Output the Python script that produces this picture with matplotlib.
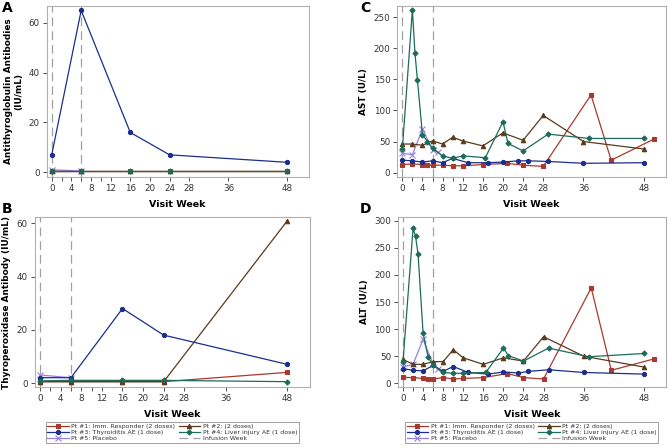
import numpy as np
import matplotlib
matplotlib.use("Agg")
import matplotlib.pyplot as plt
from matplotlib.lines import Line2D

plt.rcParams['font.family'] = ['DejaVu Sans']

# Series colours / markers
pt_names = ["Pt #1: Imm. Responder (2 doses)", "Pt #2: (2 doses)",
            "Pt #3: Thyroiditis AE (1 dose)", "Pt #4: Liver injury AE (1 dose)",
            "Pt #5: Placebo"]
pt_colors = ["#a8392f", "#5a3a1c", "#1c2f8c", "#1d6b58", "#9a7fe6"]
pt_markers = ["s", "^", "o", "D", "x"]
pt_msize = [3.0, 3.2, 3.0, 2.6, 4.0]

# Panel A - Antithyroglobulin antibodies (IU/mL)
a_weeks = {
    1: [0, 6, 16, 24, 48],
    2: [0, 6, 16, 24, 48],
    3: [0, 6, 16, 24, 48],
    4: [0, 6, 16, 24, 48],
    5: [0, 6],
}
a_vals = {
    1: [0.5, 0.5, 0.5, 0.5, 0.5],
    2: [0.5, 0.5, 0.5, 0.5, 0.5],
    3: [7, 65, 16, 7, 4],
    4: [0.5, 0.5, 0.5, 0.5, 0.5],
    5: [1, 0.5],
}

# Panel B - Thyroperoxidase antibody (IU/mL)
b_weeks = {
    1: [0, 6, 16, 24, 48],
    2: [0, 6, 16, 24, 48],
    3: [0, 6, 16, 24, 48],
    4: [0, 6, 16, 24, 48],
    5: [0, 6],
}
b_vals = {
    1: [0.5, 0.5, 0.5, 0.5, 4],
    2: [0.5, 0.5, 0.5, 0.5, 61],
    3: [2, 2, 28, 18, 7],
    4: [0.8, 1, 1, 1, 0.5],
    5: [3, 2],
}

# Panel C - AST (U/L)
c_weeks = {
    1: [0, 2, 4, 5, 6, 8, 10, 12, 16, 20.8, 24, 28, 37.5, 41.5, 50],
    2: [0, 2, 4, 6, 8, 10, 12, 16, 20, 24, 28, 36, 48],
    3: [0, 2, 4, 6, 8, 10, 13, 17, 20, 23, 25, 29, 36, 48],
    4: [0, 2, 2.5, 3, 4, 5, 6, 8, 10, 12, 16.5, 20, 21, 24, 29, 37, 48],
    5: [0, 2, 4, 6, 7],
}
c_vals = {
    1: [13, 14, 13, 12, 12, 12, 11, 11, 13, 15, 12, 10, 125, 20, 54],
    2: [46, 46, 44, 51, 46, 57, 51, 43, 64, 52, 92, 50, 38],
    3: [20, 19, 17, 19, 16, 23, 16, 16, 17, 19, 19, 18, 15, 16],
    4: [38, 262, 193, 149, 61, 50, 39, 27, 23, 27, 24, 82, 47, 35, 62, 55, 55],
    5: [31, 29, 70, 37, 33],
}

# Panel D - ALT (U/L)
d_weeks = {
    1: [0, 2, 4, 5, 6, 8, 10, 12, 16, 20.8, 24, 28, 37.5, 41.5, 50],
    2: [0, 2, 4, 6, 8, 10, 12, 16, 20, 24, 28, 36, 48],
    3: [0, 2, 4, 6, 8, 10, 13, 17, 20, 23, 25, 29, 36, 48],
    4: [0, 2, 2.5, 3, 4, 5, 6, 8, 10, 12, 16.5, 20, 21, 24, 29, 37, 48],
    5: [0, 2, 4, 6, 7],
}
d_vals = {
    1: [11, 10.5, 9, 8, 8, 10.5, 8, 9, 10.5, 18, 10.5, 8, 176, 24, 45],
    2: [44, 35, 35, 40, 40, 62, 47, 35, 47, 41, 86, 50, 30],
    3: [27, 24, 23, 33, 22, 31, 20, 17, 21, 19, 22, 25, 20, 17],
    4: [40, 286, 271, 238, 92, 48, 33, 20, 18.5, 18.5, 20, 65, 51, 41, 65, 49, 55],
    5: [30, 35, 81, 35, 27],
}

infusion_weeks = [0, 6]
major_ticks = [0, 4, 8, 12, 16, 20, 24, 28, 36, 48]
minor_ticks = [2, 6, 10]

W, H = 668, 448
fig = plt.figure(figsize=(W / 100, H / 100), dpi=100)


def px_axes(left, right, top, bottom):
    return fig.add_axes([left / W, 1 - bottom / H, (right - left) / W, (bottom - top) / H])


def draw_panel(ax, weeks, vals, ylim, yticks, ylabel, order=(5, 1, 2, 3, 4)):
    for w in infusion_weeks:
        ax.axvline(w, color="#a0a0a0", lw=0.9, dashes=(7, 4), zorder=1)
    for p in order:
        i = p - 1
        ax.plot(weeks[p], vals[p], color=pt_colors[i], marker=pt_markers[i],
                ms=pt_msize[i], lw=0.9, mew=0.8, zorder=3)
    ax.set_xlim(-1, 52.3)
    ax.set_ylim(*ylim)
    ax.set_xticks(major_ticks)
    ax.set_xticks(minor_ticks, minor=True)
    ax.set_yticks(yticks)
    ax.tick_params(labelsize=6.3, colors="#333333", length=3, width=0.6, pad=2)
    ax.tick_params(which="minor", length=3, width=0.6, colors="#333333")
    for s in ax.spines.values():
        s.set_color("#b0b0b0")
        s.set_linewidth(0.8)
    ax.set_xlabel("Visit Week", fontsize=6.8, fontweight="bold", labelpad=5)
    ax.set_ylabel(ylabel, fontsize=6.4, fontweight="bold", labelpad=4, linespacing=1.1)


axA = px_axes(46.8, 308.5, 6, 177)
draw_panel(axA, a_weeks, a_vals, (-1.9, 66.8), [0, 20, 40, 60],
           "Antithyroglobulin Antibodies\n(IU/mL)")
axB = px_axes(34.9, 309.5, 217, 387)
draw_panel(axB, b_weeks, b_vals, (-1.5, 62.4), [0, 20, 40, 60],
           "Thyroperoxidase Antibody (IU/mL)")
axC = px_axes(397.3, 665.5, 6, 177)
draw_panel(axC, c_weeks, c_vals, (-7, 268), [0, 50, 100, 150, 200, 250], "AST (U/L)")
axD = px_axes(398, 665.5, 217, 387)
draw_panel(axD, d_weeks, d_vals, (-6.8, 306.8), [0, 50, 100, 150, 200, 250, 300], "ALT (U/L)")

for lab, x, y in [("A", 2, 1), ("B", 2, 202), ("C", 360, 1), ("D", 360, 202)]:
    fig.text(x / W, 1 - y / H, lab, fontsize=10, fontweight="bold", va="top", ha="left")

# legends (column-wise fill: Pt1, Pt3, Pt5 | Pt2, Pt4, Infusion)
handles = []
labels = []
for p in [1, 3, 5, 2, 4]:
    i = p - 1
    handles.append(Line2D([], [], color=pt_colors[i], marker=pt_markers[i],
                          ms=pt_msize[i], lw=0.9, mew=0.8))
    labels.append(pt_names[i])
handles.append(Line2D([], [], color="#a0a0a0", lw=0.9, dashes=(7, 4)))
labels.append("Infusion Week")

for cx in [(34.9 + 309.5) / 2, (398 + 665.5) / 2]:
    leg = fig.legend(handles, labels, ncol=2, loc="upper center",
                     bbox_to_anchor=(cx / W, 1 - 422 / H), fontsize=4.5,
                     frameon=True, fancybox=False, edgecolor="#888888",
                     handlelength=3.4, handletextpad=0.4, columnspacing=0.6,
                     labelspacing=0.1, borderpad=0.25, borderaxespad=0)
    leg.get_frame().set_linewidth(0.7)
    for t in leg.get_texts():
        t.set_color("#333333")

fig.savefig("out.png", dpi=100)
